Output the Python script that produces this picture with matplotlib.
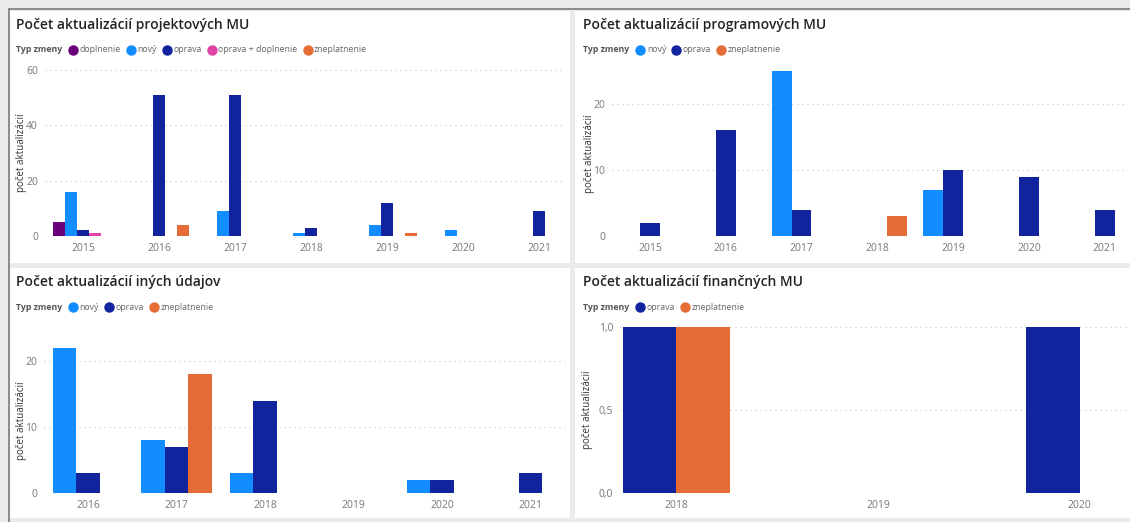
import matplotlib
matplotlib.use('Agg')
import matplotlib.pyplot as plt
from matplotlib.patches import Rectangle
import numpy as np

plt.rcParams['font.family'] = ['Open Sans', 'DejaVu Sans']

# Power BI default theme colours
colors = {'doplnenie': '#6B007B', 'nový': '#118DFF', 'oprava': '#12239E',
          'oprava + doplnenie': '#E044A7', 'zneplatnenie': '#E66C37'}

# --- data ---
proj_years = ['2015', '2016', '2017', '2018', '2019', '2020', '2021']
proj_types = ['doplnenie', 'nový', 'oprava', 'oprava + doplnenie', 'zneplatnenie']
proj_doplnenie = [5, 0, 0, 0, 0, 0, 0]
proj_novy = [16, 0, 9, 1, 4, 2, 0]
proj_oprava = [2, 51, 51, 3, 12, 0, 9]
proj_opr_dopl = [1, 0, 0, 0, 0, 0, 0]
proj_znepl = [0, 4, 0, 0, 1, 0, 0]

prog_years = ['2015', '2016', '2017', '2018', '2019', '2020', '2021']
prog_types = ['nový', 'oprava', 'zneplatnenie']
prog_novy = [0, 0, 25, 0, 7, 0, 0]
prog_oprava = [2, 16, 4, 0, 10, 9, 4]
prog_znepl = [0, 0, 0, 3, 0, 0, 0]

ine_years = ['2016', '2017', '2018', '2019', '2020', '2021']
ine_types = ['nový', 'oprava', 'zneplatnenie']
ine_novy = [22, 8, 3, 0, 2, 0]
ine_oprava = [3, 7, 14, 0, 2, 3]
ine_znepl = [0, 18, 0, 0, 0, 0]

fin_years = ['2018', '2019', '2020']
fin_types = ['oprava', 'zneplatnenie']
fin_oprava = [1, 0, 1]
fin_znepl = [1, 0, 0]

W, H = 1130, 522
fig = plt.figure(figsize=(W / 100, H / 100), dpi=100)
fig.patch.set_facecolor('#ebebeb')


def px_rect(x0, y0, x1, y1):
    # image pixel box -> figure fraction [left, bottom, width, height]
    return [x0 / W, 1 - y1 / H, (x1 - x0) / W, (y1 - y0) / H]


# outer frame + white panels (behind the axes)
fig.add_artist(Rectangle((8 / W, 0), 1.5 / W, 1 - 8 / H, transform=fig.transFigure,
                         facecolor='#8c8c8c', edgecolor='none', zorder=-2))
fig.add_artist(Rectangle((8 / W, 1 - 9.5 / H), 1, 1.5 / H, transform=fig.transFigure,
                         facecolor='#8c8c8c', edgecolor='none', zorder=-2))
for (x0, y0, x1, y1) in [(10, 11, 570, 263), (575, 11, 1130, 263),
                         (10, 268, 570, 518), (575, 268, 1130, 518)]:
    r = px_rect(x0, y0, x1, y1)
    fig.add_artist(Rectangle((r[0], r[1]), r[2], r[3], transform=fig.transFigure,
                             facecolor='white', edgecolor='none', zorder=-1))


def legend_row(x, y, types):
    r = fig.canvas.get_renderer()
    t = fig.text(x / W, 1 - y / H, 'Typ zmeny', fontsize=6.3, fontweight='bold',
                 color='#555555', va='center', ha='left')
    cx = t.get_window_extent(r).x1 + 11
    for name in types:
        fig.add_artist(plt.Line2D([cx / W], [1 - y / H], marker='o', markersize=6.5,
                                  color=colors[name], transform=fig.transFigure))
        tt = fig.text((cx + 6.5) / W, 1 - y / H, name, fontsize=6.3, color='#666666',
                      va='center', ha='left')
        cx = tt.get_window_extent(r).x1 + 10


def panel(box, title, title_xy, types, years, series, slot, xlim, ylim, yticks,
          ylabels=None):
    ax = fig.add_axes(px_rect(*box))
    ax.set_facecolor('none')
    x = np.arange(len(years))
    n = len(types)
    for i, (name, vals) in enumerate(zip(types, series)):
        off = (i - (n - 1) / 2) * slot
        ax.bar(x + off, vals, width=slot, color=colors[name], zorder=3,
               edgecolor='none')
    ax.set_xlim(*xlim)
    ax.set_ylim(*ylim)
    ax.set_xticks(x)
    ax.set_xticklabels(years)
    ax.set_yticks(yticks)
    if ylabels:
        ax.set_yticklabels(ylabels)
    ax.tick_params(length=0, labelsize=7.5, labelcolor='#777777', pad=5)
    for s in ax.spines.values():
        s.set_visible(False)
    ax.grid(axis='y', linestyle=(0, (1, 3.5)), color='#c4c4c4', linewidth=0.8, zorder=0)
    ax.set_ylabel('počet aktualizácií', fontsize=7, color='#333333')
    fig.text(title_xy[0] / W, 1 - title_xy[1] / H, title, fontsize=10,
             fontweight='semibold', color='#252423', va='center', ha='left')
    legend_row(title_xy[0], title_xy[1] + 25, types)
    return ax


ax1 = panel((45, 70, 565, 236), 'Počet aktualizácií projektových MU', (16, 25),
            proj_types, proj_years,
            [proj_doplnenie, proj_novy, proj_oprava, proj_opr_dopl, proj_znepl],
            0.158, (-0.5, 6.34), (0, 60), [0, 20, 40, 60])
ax1.yaxis.set_label_coords(-0.035, 0.5)

ax2 = panel((612, 71, 1126, 236), 'Počet aktualizácií programových MU', (583, 25),
            prog_types, prog_years, [prog_novy, prog_oprava, prog_znepl],
            0.263, (-0.5, 6.28), (0, 25), [0, 10, 20])
ax2.yaxis.set_label_coords(-0.033, 0.5)

ax3 = panel((44, 348, 565, 493), 'Počet aktualizácií iných údajov', (16, 282),
            ine_types, ine_years, [ine_novy, ine_oprava, ine_znepl],
            0.266, (-0.5, 5.39), (0, 22), [0, 10, 20])
ax3.yaxis.set_label_coords(-0.033, 0.5)

ax4 = panel((620, 327, 1128, 493), 'Počet aktualizácií finančných MU', (583, 282),
            fin_types, fin_years, [fin_oprava, fin_znepl],
            0.267, (-0.28, 2.24), (0, 1), [0, 0.5, 1.0], ['0,0', '0,5', '1,0'])
ax4.yaxis.set_label_coords(-0.053, 0.5)

fig.savefig('out.png', dpi=100, facecolor=fig.get_facecolor())
